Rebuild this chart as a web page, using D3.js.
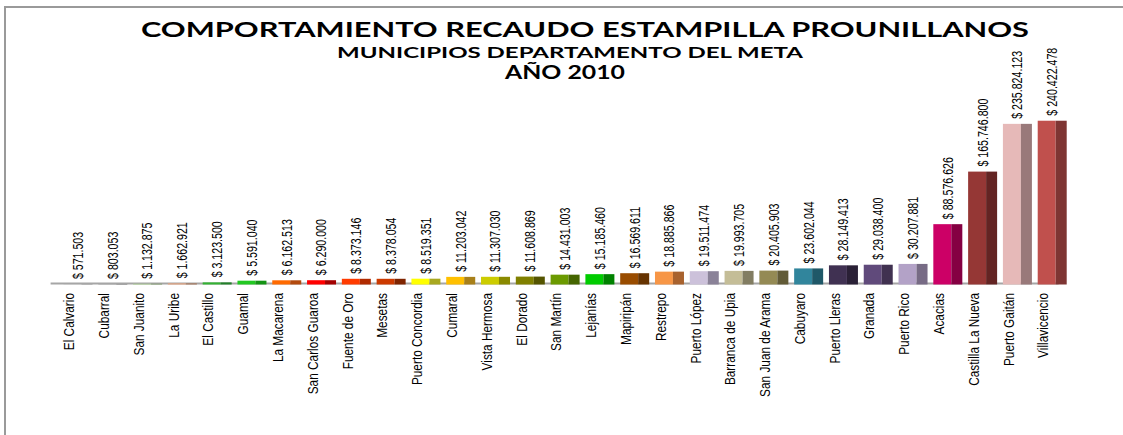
<!DOCTYPE html>
<html>
<head>
<meta charset="utf-8">
<script src="https://cdn.jsdelivr.net/npm/d3@7"></script>
<style>
  html, body { margin: 0; padding: 0; background: #fff; }
  svg { display: block; }
  .ttl { font-family: Lato, "Open Sans", sans-serif; font-weight: bold; fill: #000; }
  .lbl { font-family: "Liberation Sans", Arial, sans-serif; fill: #000; }
</style>
</head>
<body>
<svg id="chart" width="1123" height="435"></svg>
<script>
// Municipios del Meta, ordered by 2010 collection
const categories = [
  "El Calvario", "Cubarral", "San Juanito", "La Uribe", "El Castillo", "Guamal",
  "La Macarena", "San Carlos Guaroa", "Fuente de Oro", "Mesetas", "Puerto Concordia",
  "Cumaral", "Vista Hermosa", "El Dorado", "San Martín", "Lejanías", "Mapiripán",
  "Restrepo", "Puerto López", "Barranca de Upia", "San Juan  de Arama", "Cabuyaro",
  "Puerto Lleras", "Granada", "Puerto Rico", "Acacias", "Castilla La Nueva",
  "Puerto Gaitán", "Villavicencio"
];

// Recaudo estampilla Prounillanos (pesos)
const values = [
  571503, 803053, 1132875, 1662921, 3123500, 5591040,
  6162513, 6290000, 8373146, 8378054, 8519351,
  11203042, 11307030, 11608869, 14431003, 15185460, 16569611,
  18885866, 19511474, 19993705, 20405903, 23602044,
  28149413, 29038400, 30207881, 88576626, 165746800,
  235824123, 240422478
];

// Front face and side face colours of each bar
const frontColors = [
  "#bfbfbf", "#a6a6a6", "#a9d18e", "#e9a47e", "#33b233", "#22c822",
  "#ff6a00", "#ff0000", "#ff3b00", "#cc3a00", "#ffff00",
  "#ffc000", "#cccc00", "#808000", "#6b9a00", "#00cc00", "#994c00",
  "#f79646", "#ccc1da", "#c4bd97", "#948a54", "#31859c",
  "#403152", "#604a7b", "#b3a2c7", "#cc0066", "#953735",
  "#e6b9b8", "#c0504d"
];
const sideColors = [
  "#8c8c8c", "#7a7a7a", "#7c9a68", "#a8765b", "#22802a", "#139313",
  "#b34a0e", "#a30000", "#b02a00", "#7f2400", "#a8a820",
  "#a8801a", "#8a8a00", "#555500", "#456500", "#008200", "#663300",
  "#a8622e", "#8a8298", "#827d62", "#625b37", "#1f5868",
  "#2a2036", "#403150", "#776b85", "#850042", "#632423",
  "#99797a", "#7e3533"
];

const svg = d3.select("#chart");

// Chart frame (top and left edges)
svg.append("path")
  .attr("d", "M5,435 V7 H1123")
  .attr("fill", "none")
  .attr("stroke", "#9a9a9a")
  .attr("stroke-width", 2);

// Titles
const titles = [
  { text: "COMPORTAMIENTO RECAUDO ESTAMPILLA PROUNILLANOS", x: 585, y: 37, size: 21, len: 888 },
  { text: "MUNICIPIOS  DEPARTAMENTO DEL META", x: 570, y: 58, size: 15, len: 466 },
  { text: "AÑO  2010", x: 565, y: 79, size: 19, len: 120 }
];
svg.selectAll("text.ttl")
  .data(titles)
  .join("text")
  .attr("class", "ttl")
  .attr("x", d => d.x - d.len / 2)
  .attr("y", d => d.y)
  .attr("font-size", d => d.size)
  .attr("textLength", d => d.len)
  .attr("lengthAdjust", "spacingAndGlyphs")
  .text(d => d.text);

// Scales
const x = d3.scaleBand()
  .domain(categories)
  .range([60.6, 1069.6])
  .paddingInner(0.1667)
  .paddingOuter(0.0833);

const y = d3.scaleLinear()
  .domain([0, 250000000])
  .range([284.5, 114.2]);

const depthShift = 9; // floor front edge sits left of the bars

// Floor / baseline
svg.append("line")
  .attr("x1", x.range()[0] - 10)
  .attr("x2", x.range()[1] - 11)
  .attr("y1", 283.5)
  .attr("y2", 283.5)
  .attr("stroke", "#a6a6a6")
  .attr("stroke-width", 2);

const bw = x.bandwidth();
const frontW = bw * 0.62;

const data = categories.map((c, i) => ({ c, v: values[i], f: frontColors[i], s: sideColors[i] }));

const bars = svg.append("g").selectAll("g").data(data).join("g");

bars.append("rect")
  .attr("x", d => x(d.c))
  .attr("y", d => y(d.v))
  .attr("width", frontW)
  .attr("height", d => y(0) - y(d.v))
  .attr("fill", d => d.f);

bars.append("rect")
  .attr("x", d => x(d.c) + frontW)
  .attr("y", d => y(d.v))
  .attr("width", bw - frontW)
  .attr("height", d => y(0) - y(d.v))
  .attr("fill", d => d.s);

// Value labels, Colombian thousands separator
const fmt = d3.formatLocale({ decimal: ",", thousands: ".", grouping: [3], currency: ["$ ", ""] }).format("$,.0f");

svg.append("g").selectAll("text")
  .data(data)
  .join("text")
  .attr("class", "lbl")
  .attr("font-size", 14)
  .attr("dy", "0.35em")
  .attr("text-anchor", "start")
  .attr("transform", d => `translate(${x(d.c) + bw / 2},${y(d.v) - 5}) rotate(-90) scale(0.76,1)`)
  .text(d => fmt(d.v));

// Category axis labels
svg.append("g").selectAll("text")
  .data(categories)
  .join("text")
  .attr("class", "lbl")
  .attr("font-size", 15)
  .attr("dy", "0.35em")
  .attr("text-anchor", "end")
  .attr("transform", c => `translate(${x(c) + bw / 2 - depthShift},293) rotate(-90) scale(0.79,1)`)
  .text(c => c);
</script>
</body>
</html>
